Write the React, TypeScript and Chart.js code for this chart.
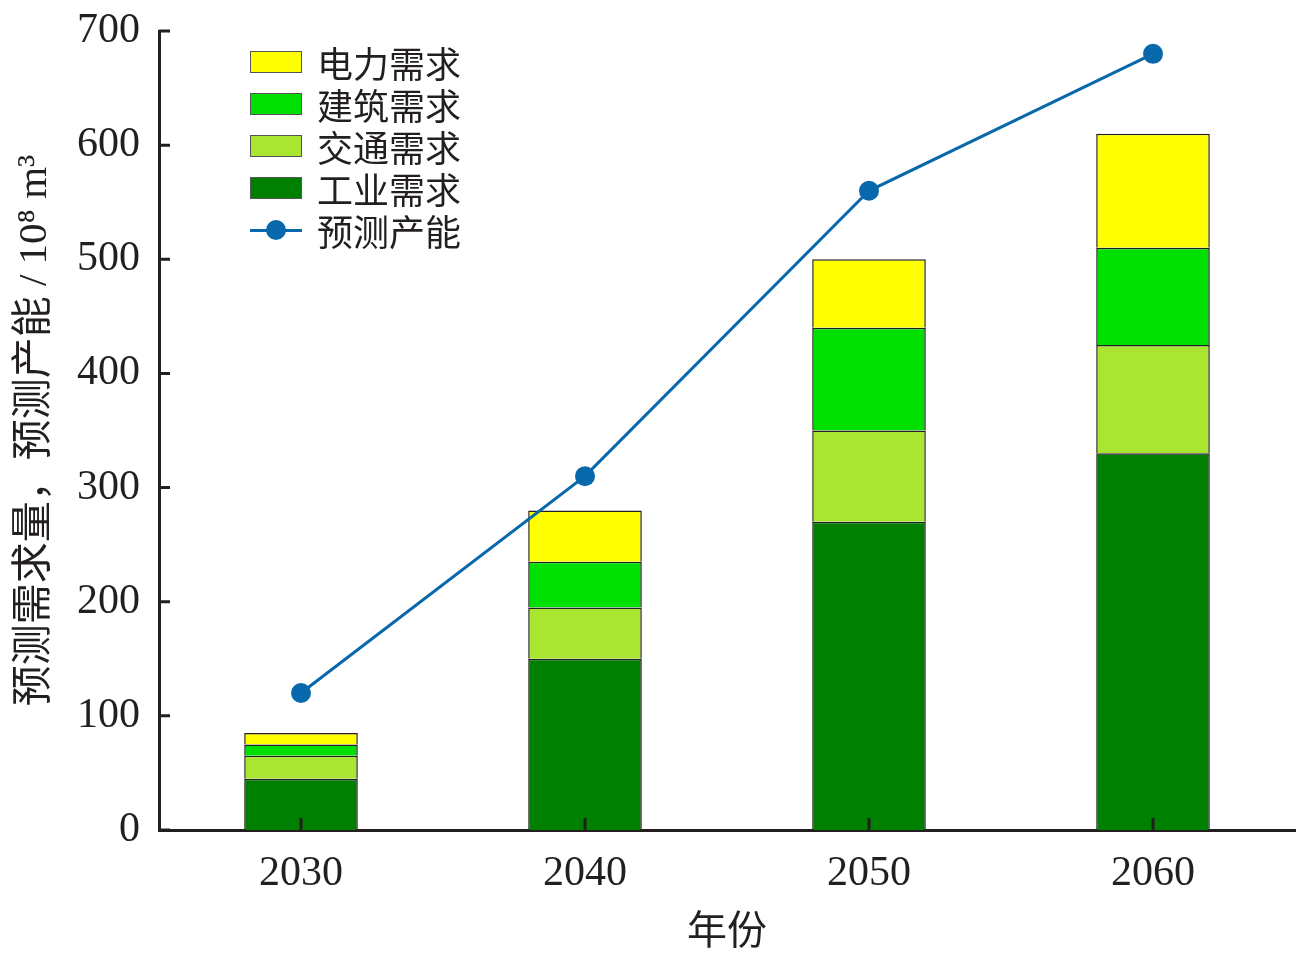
import { useEffect, useRef } from "react"
import { Chart, registerables, type ChartConfiguration, type Plugin } from "chart.js"

Chart.register(...registerables)

const years = ["2030", "2040", "2050", "2060"]
const industryDemand = [45, 150, 270, 330]
const transportDemand = [20, 45, 80, 95]
const buildingDemand = [10, 40, 90, 85]
const powerDemand = [10, 45, 60, 100]
const forecastCapacity = [120, 310, 560, 680]
const yTicks = [0, 100, 200, 300, 400, 500, 600, 700]

const INK = "#231f20"
const BLUE = "#0868ac"
const FONT = "'Liberation Serif', 'Noto Sans CJK SC', serif"

const legendItems = [
  { label: "电力需求", color: "#ffff00" },
  { label: "建筑需求", color: "#00e000" },
  { label: "交通需求", color: "#a8e632" },
  { label: "工业需求", color: "#008000" },
]

// inward tick marks on both axes
const innerTicks: Plugin = {
  id: "innerTicks",
  afterDatasetsDraw(chart) {
    const { ctx, chartArea, scales } = chart
    ctx.save()
    ctx.strokeStyle = INK
    ctx.lineWidth = 3
    ctx.beginPath()
    yTicks.forEach((v) => {
      const y = scales.y.getPixelForValue(v)
      ctx.moveTo(chartArea.left, y)
      ctx.lineTo(chartArea.left + 11, y)
    })
    years.forEach((_, i) => {
      const x = scales.x.getPixelForValue(i)
      ctx.moveTo(x, chartArea.bottom)
      ctx.lineTo(x, chartArea.bottom - 12)
    })
    ctx.stroke()
    ctx.restore()
  },
}

export default function App() {
  const canvasRef = useRef<HTMLCanvasElement>(null)

  useEffect(() => {
    if (!canvasRef.current) return
    const bar = (label: string, data: number[], color: string) => ({
      type: "bar" as const,
      label,
      data,
      backgroundColor: color,
      borderColor: INK,
      borderWidth: 1.5,
      barPercentage: 0.4,
      categoryPercentage: 1,
      stack: "demand",
      order: 1,
    })

    const config: ChartConfiguration = {
      type: "bar",
      data: {
        labels: years,
        datasets: [
          bar("工业需求", industryDemand, "#008000"),
          bar("交通需求", transportDemand, "#a8e632"),
          bar("建筑需求", buildingDemand, "#00e000"),
          bar("电力需求", powerDemand, "#ffff00"),
          {
            type: "line",
            label: "预测产能",
            data: forecastCapacity,
            borderColor: BLUE,
            backgroundColor: BLUE,
            borderWidth: 3,
            pointRadius: 10,
            pointBorderWidth: 0,
            pointBackgroundColor: BLUE,
            stack: "line",
            order: 0,
          } as any,
        ],
      },
      options: {
        animation: false,
        responsive: true,
        maintainAspectRatio: false,
        layout: { autoPadding: false, padding: { top: 31, right: 11, left: 0, bottom: 0 } },
        plugins: {
          legend: { display: false },
          tooltip: { enabled: false },
        },
        scales: {
          x: {
            stacked: true,
            grid: { display: false },
            border: { display: true, color: INK, width: 3 },
            ticks: { color: INK, font: { family: FONT, size: 42 }, padding: 11 },
            title: {
              display: true,
              text: "年份",
              color: INK,
              font: { family: FONT, size: 40 },
              padding: { top: 0, bottom: 0 },
            },
            afterFit(scale) {
              scale.height = 127
            },
          },
          y: {
            stacked: true,
            min: 0,
            max: 700,
            grid: { display: false },
            border: { display: true, color: INK, width: 3 },
            ticks: { stepSize: 100, color: INK, font: { family: FONT, size: 42 }, padding: 11 },
            title: {
              display: true,
              text: "预测需求量，预测产能 / 10⁸ m³",
              color: INK,
              font: { family: FONT, size: 41 },
              padding: { top: 11, bottom: 0 },
            },
            afterFit(scale) {
              scale.width = 159
              // let the plot area start right at the layout padding
              scale.paddingTop = 0
            },
          },
        },
      },
      plugins: [innerTicks],
    }

    const chart = new Chart(canvasRef.current, config)
    return () => chart.destroy()
  }, [])

  return (
    <div style={{ position: "absolute", left: 0, top: 0, width: 1306, height: 957, background: "#fff" }}>
      <canvas ref={canvasRef}></canvas>
      <div style={{ position: "absolute", left: 250, top: 41, fontFamily: FONT, fontSize: 36, color: INK }}>
        {legendItems.map((item) => (
          <div key={item.label} style={{ display: "flex", alignItems: "center", height: 42 }}>
            <div
              style={{
                width: 50,
                height: 20,
                background: item.color,
                border: "1px solid #555",
                marginRight: 15,
              }}
            />
            <span>{item.label}</span>
          </div>
        ))}
        <div style={{ display: "flex", alignItems: "center", height: 42 }}>
          <div style={{ position: "relative", width: 52, height: 20, marginRight: 15 }}>
            <div style={{ position: "absolute", left: 0, top: 8.5, width: 52, height: 3, background: BLUE }} />
            <div
              style={{
                position: "absolute",
                left: 16,
                top: 0,
                width: 20,
                height: 20,
                borderRadius: "50%",
                background: BLUE,
              }}
            />
          </div>
          <span>预测产能</span>
        </div>
      </div>
    </div>
  )
}
